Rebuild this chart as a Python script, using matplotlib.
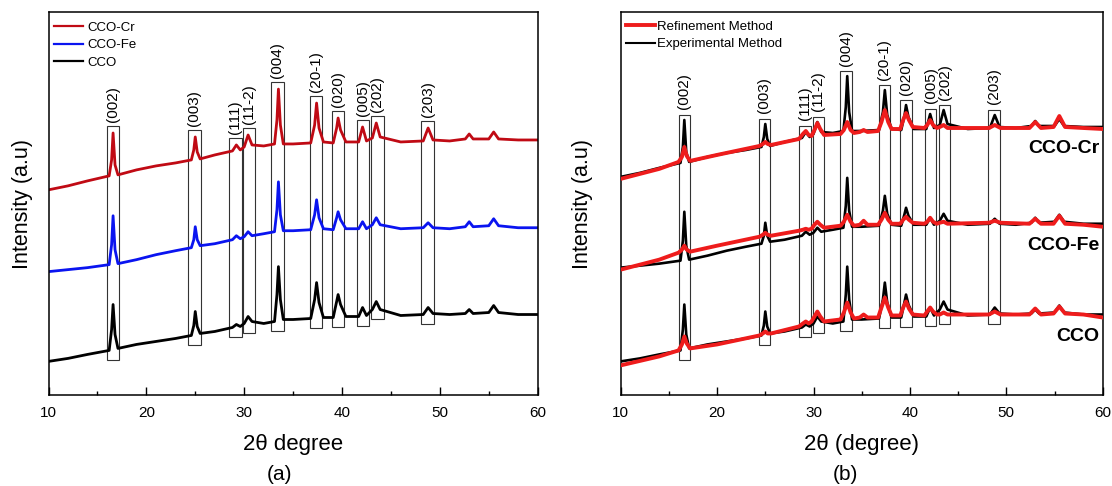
import numpy as np
import matplotlib.pyplot as plt
from matplotlib.patches import Rectangle
from matplotlib.ticker import MultipleLocator

plt.rcParams['font.family'] = ['Liberation Sans', 'DejaVu Sans']

# measured XRD patterns (2theta in degree, intensity in a.u., stacked as in panel a)
two_theta = [10, 12, 14, 16.2, 16.45, 16.6, 16.8, 17.1, 19, 21,
             23, 24.6, 24.85, 25.0, 25.2, 25.5, 27, 28.8, 29.2, 29.6,
             30.0, 30.4, 30.8, 32, 33.1, 33.35, 33.5, 33.7, 34.0, 35,
             36.8, 37.2, 37.4, 37.65, 38.1, 39.1, 39.45, 39.6, 39.85, 40.4,
             41.7, 42.1, 42.5, 43.1, 43.5, 43.9, 46, 48.3, 48.8, 49.3,
             51, 52.6, 53.0, 53.4, 55, 55.5, 56, 58, 60]
cco_cr = [206, 210, 215, 220, 236, 263, 231, 221, 226, 230,
          233, 236, 246, 259, 244, 237, 241, 245, 251, 246,
          249, 261, 251, 250, 252, 276, 307, 271, 252, 252,
          253, 271, 293, 268, 254, 253, 268, 278, 266, 254,
          254, 269, 255, 258, 273, 259, 254, 255, 268, 256,
          255, 257, 262, 257, 257, 264, 257, 256, 256]
cco_fe = [124, 126, 128, 131, 151, 180, 146, 132, 136, 141,
          145, 148, 156, 169, 156, 150, 152, 156, 160, 157,
          159, 164, 160, 162, 164, 186, 214, 181, 165, 165,
          166, 181, 196, 178, 167, 166, 178, 184, 176, 167,
          167, 174, 167, 171, 178, 171, 167, 168, 173, 168,
          167, 169, 174, 169, 170, 177, 170, 168, 168]
cco = [34, 37, 41, 45, 66, 91, 61, 47, 51, 54,
       57, 60, 70, 84, 69, 62, 64, 68, 71, 69,
       72, 79, 74, 72, 74, 101, 129, 96, 76, 76,
       77, 96, 113, 93, 78, 78, 94, 101, 91, 79,
       79, 88, 80, 86, 94, 86, 80, 81, 88, 82,
       81, 82, 86, 82, 83, 90, 83, 81, 81]

# refinement (fitted) patterns, same intensity basis
fit_theta = [10, 14, 16.0, 16.35, 16.6, 16.85, 17.2, 20, 24.4, 24.75,
             25.0, 25.25, 25.6, 28.5, 28.9, 29.2, 29.5, 29.8, 30.1, 30.4,
             30.7, 31.1, 32.8, 33.15, 33.5, 33.85, 34.2, 34.8, 35.2, 35.6,
             36.7, 37.05, 37.4, 37.75, 38.1, 39.0, 39.3, 39.6, 39.9, 40.3,
             41.5, 41.8, 42.1, 42.4, 42.8, 43.1, 43.5, 43.9, 48.2, 48.8,
             49.4, 52.4, 53.0, 53.6, 54.9, 55.5, 56.1, 58, 60]
fit_cr = [204, 214, 221, 226, 236, 227, 222, 228, 237, 239,
          241, 239, 238, 244, 249, 252, 248, 247, 253, 260,
          254, 248, 249, 253, 261, 253, 250, 251, 253, 251,
          252, 261, 273, 261, 254, 254, 263, 270, 263, 256,
          255, 258, 263, 258, 255, 256, 258, 255, 255, 258,
          255, 255, 261, 255, 256, 267, 256, 255, 254]
fit_fe = [122, 132, 139, 142, 146, 142, 140, 146, 155, 157,
          159, 157, 156, 161, 162, 163, 162, 163, 167, 170,
          167, 164, 166, 170, 177, 170, 166, 167, 171, 167,
          167, 172, 179, 172, 168, 168, 172, 175, 172, 169,
          168, 170, 174, 170, 168, 169, 170, 168, 169, 171,
          169, 168, 173, 168, 168, 176, 168, 167, 165]
fit_cco = [30, 39, 45, 51, 59, 52, 47, 51, 60, 62,
           64, 62, 62, 69, 72, 74, 72, 74, 79, 84,
           79, 74, 76, 83, 93, 83, 77, 78, 81, 78,
           78, 88, 98, 88, 80, 80, 88, 94, 87, 81,
           80, 84, 88, 84, 81, 81, 83, 81, 81, 84,
           81, 81, 87, 81, 82, 89, 82, 81, 78]

samples = ['CCO-Cr', 'CCO-Fe', 'CCO']
# extra vertical shift of each pattern in panel (b)
shift_b = [13, 4, 0]

hkl = ['(002)', '(003)', '(111)', '(11-2)', '(004)', '(20-1)', '(020)', '(005)', '(202)', '(203)']
hkl_pos = [16.6, 24.9, 29.1, 30.5, 33.4, 37.35, 39.6, 42.15, 43.6, 48.75]


def draw_boxes(ax, curves, width, top_gap, text_gap):
    # one box per reflection, wrapping the peaks of all patterns
    for label, pos in zip(hkl, hkl_pos):
        lo, hi = pos - width / 2, pos + width / 2
        tops, bots = [], []
        for x, y in curves:
            m = (x >= lo) & (x <= hi)
            tops.append(y[m].max())
            bots.append(y[m].min())
        top = max(tops) + top_gap
        bottom = min(bots) - 10
        ax.add_patch(Rectangle((lo, bottom), width, top - bottom, fill=False,
                               lw=0.8, ec='#333333', zorder=1))
        ax.annotate(label, (pos, top), xytext=(0, text_gap), textcoords='offset points',
                    rotation=90, ha='center', va='bottom', fontsize=11)


def style_axes(ax, xlabel, ylabel_pad):
    ax.set_xlim(10, 60)
    ax.set_ylim(0, 384)
    ax.set_yticks([])
    ax.xaxis.set_major_locator(MultipleLocator(10))
    ax.xaxis.set_minor_locator(MultipleLocator(5))
    ax.tick_params(axis='x', which='major', direction='in', length=6, width=1, pad=8, labelsize=11)
    ax.tick_params(axis='x', which='minor', direction='in', length=3, width=1)
    for s in ax.spines.values():
        s.set_linewidth(1.1)
    ax.set_xlabel(xlabel, fontsize=16, labelpad=10)
    ax.set_ylabel('Intensity (a.u)', fontsize=15.5, labelpad=ylabel_pad)


fig = plt.figure(figsize=(11.12, 4.86), dpi=100)
ax1 = fig.add_axes([48.5 / 1112, 90.7 / 486, 489.2 / 1112, 383 / 486])
ax2 = fig.add_axes([620.7 / 1112, 90.7 / 486, 482 / 1112, 383 / 486])

x = np.array(two_theta)
xf = np.array(fit_theta)
exp_data = [np.array(cco_cr), np.array(cco_fe), np.array(cco)]
fit_data = [np.array(fit_cr), np.array(fit_fe), np.array(fit_cco)]

# ---- panel (a)
colors = ['#c00a14', '#0a14f0', 'black']
for y, name, c in zip(exp_data, samples, colors):
    ax1.plot(x, y, color=c, lw=2.0, label=name, zorder=2)
draw_boxes(ax1, [(x, y) for y in exp_data], 1.3, 7, 3)
style_axes(ax1, '2θ degree', 11)
leg1 = ax1.legend(loc='upper left', bbox_to_anchor=(0.012, 0.975), frameon=False, fontsize=9.5,
                  handlelength=2.2, handletextpad=0.3, labelspacing=0.38, borderpad=0,
                  borderaxespad=0)
for ln in leg1.get_lines():
    ln.set_linewidth(1.6)

# ---- panel (b)
curves_b = []
for i, (y, yf, name, s) in enumerate(zip(exp_data, fit_data, samples, shift_b)):
    ax2.plot(x, y + s, color='black', lw=1.9, zorder=2,
             label='Experimental Method' if i == 0 else None)
    ax2.plot(xf, yf + s, color='#ee1c1c', lw=2.8, zorder=3,
             label='Refinement Method' if i == 0 else None)
    curves_b += [(x, y + s), (xf, yf + s)]
    ax2.text(0.994, y[-1] + s - 22, name, transform=ax2.get_yaxis_transform(),
             ha='right', va='center', fontsize=14, fontweight='bold')
draw_boxes(ax2, curves_b, 1.2, 5, 4)
style_axes(ax2, '2θ (degree)', 20)
h, l = ax2.get_legend_handles_labels()
leg2 = ax2.legend(h[::-1], l[::-1], loc='upper left', bbox_to_anchor=(0.01, 0.978), frameon=False,
                  fontsize=9.5, handlelength=2.2, handletextpad=0.2, labelspacing=0.38,
                  borderpad=0, borderaxespad=0)
leg2.get_lines()[1].set_linewidth(1.5)

fig.text(279 / 1112, 1 - 474 / 486, '(a)', ha='center', va='center', fontsize=15)
fig.text(845 / 1112, 1 - 474 / 486, '(b)', ha='center', va='center', fontsize=15)

fig.savefig('out.png', dpi=100)
